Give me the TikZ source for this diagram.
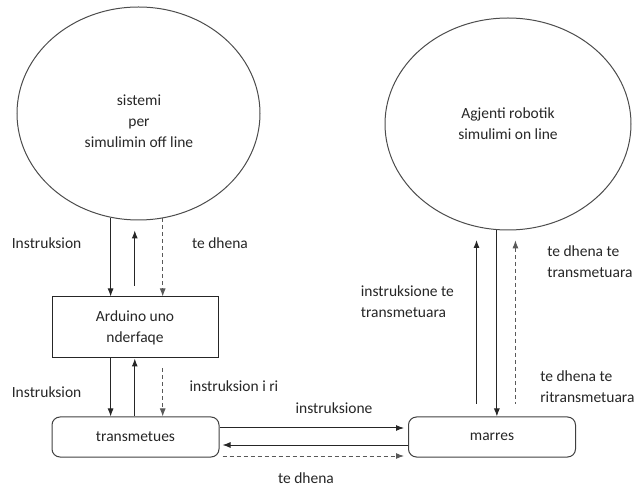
\documentclass[tikz,border=0pt]{standalone}
\usepackage{fontspec}
\setmainfont{Carlito}
\usetikzlibrary{shapes.geometric,arrows.meta}

\begin{document}
\begin{tikzpicture}[x=1pt,y=-1pt,>={Latex[length=8pt,width=6pt]},line width=1pt,
    every node/.style={font=\fontsize{15.5}{21}\selectfont,text=black!85},
    sistem/.style={draw=black!70,ellipse,align=center},
    blok/.style={draw=black!85,minimum width=166pt,minimum height=61pt,align=center},
    kuti/.style={draw=black!75,rounded corners=8pt,minimum width=167pt,minimum height=40pt},
    vija/.style={draw=black!85},
    ndrprer/.style={draw=black!65,dash pattern=on 4pt off 3pt}]
    \useasboundingbox (0,0) rectangle (635,486);

    % dy sistemet
    \node[sistem,minimum width=243pt,minimum height=213pt] (sim) at (138.5,113.5) {};
    \node[align=center] (simtxt) at (139,121) {sistemi\\per\\simulimin off line};
    \node[sistem,minimum width=246pt,minimum height=212pt] (agj) at (508,124) {Agjenti robotik\\simulimi on line};

    % blloqet
    \node[blok] (ard) at (135,327.5) {Arduino uno\\nderfaqe};
    \node[kuti] (tra) at (135.5,437) {transmetues};
    \node[kuti] (mar) at (492,437) {marres};

    % sim <-> arduino
    \draw[vija,->] (sim.-105) -- (sim.-105 |- ard.north);
    \draw[vija,<-,shorten <=10pt,shorten >=10pt] (sim.-92) -- (sim.-92 |- ard.north);
    \draw[ndrprer,->] (sim.-77) -- (sim.-77 |- ard.north);

    % arduino <-> transmetues
    \draw[vija,->] (sim.-105 |- ard.south) -- (sim.-105 |- tra.north);
    \draw[vija,<-] (sim.-92 |- ard.south) -- (sim.-92 |- tra.north);
    \draw[ndrprer,->,shorten <=10pt] (sim.-77 |- ard.south) -- (sim.-77 |- tra.north);

    % transmetues <-> marres
    \coordinate (h1) at ([yshift=9pt]tra.east);
    \coordinate (h2) at ([yshift=-8pt]tra.east);
    \coordinate (h3) at ([yshift=-19pt]tra.east);
    \draw[vija,->,shorten >=4pt] (h1) -- (h1 -| mar.west);
    \draw[vija,->,shorten >=3pt] (h2 -| mar.west) -- (h2);
    \draw[ndrprer,->,shorten <=3pt,shorten >=4pt] (h3) -- (h3 -| mar.west);

    % marres <-> agjenti
    \draw[vija,<-,shorten <=13pt,shorten >=12pt] (agj.-107) -- (agj.-107 |- mar.north);
    \draw[vija,->] (agj.-96) -- (agj.-96 |- mar.north);
    \draw[ndrprer,<-,shorten <=10pt,shorten >=12pt] (agj.-86) -- (agj.-86 |- mar.north);

    % etiketat
    \node[anchor=west] (l1) at (8,243) {Instruksion};
    \node (l2) at (220,243) {te dhena};
    \node[anchor=west] (l3) at (8,392) {Instruksion};
    \node (l4) at (234,386) {instruksion i ri};
    \node (l5) at (334,408) {instruksione};
    \node (l6) at (306,478) {te dhena};
    \node[anchor=west,align=left] (l7) at (357,302) {instruksione te\\transmetuara};
    \node[anchor=west,align=left] (l8) at (543.5,262) {te dhena te\\transmetuara};
    \node[anchor=west,align=left] (l9) at (536.5,387) {te dhena te\\ritransmetuara};
\end{tikzpicture}
\end{document}
